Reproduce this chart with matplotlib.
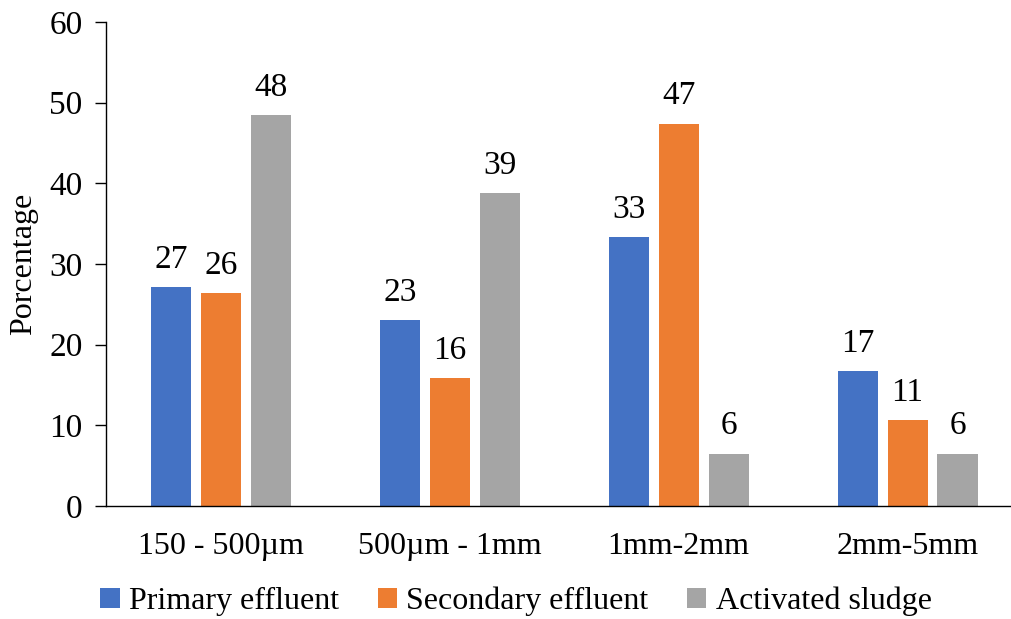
import matplotlib.pyplot as plt
import numpy as np

plt.rcParams['font.family'] = ['Liberation Serif', 'DejaVu Serif']

categories = ["150 - 500µm", "500µm - 1mm", "1mm-2mm", "2mm-5mm"]
series_names = ["Primary effluent", "Secondary effluent", "Activated sludge"]
primary = [27.1, 23.0, 33.3, 16.7]
secondary = [26.4, 15.9, 47.4, 10.7]
sludge = [48.4, 38.8, 6.5, 6.5]
colors = ['#4472C4', '#ED7D31', '#A5A5A5']

fig = plt.figure(figsize=(10.12, 6.19), dpi=100)
ax = fig.add_axes([0.105, 0.1826, 0.895, 0.782])

x = np.arange(len(categories))
width = 0.175
step = 0.218
for k, (vals, name) in enumerate(zip([primary, secondary, sludge], series_names)):
	pos = x + (k - 1) * step
	bars = ax.bar(pos, vals, width, color=colors[k], label=name)
	for p, v in zip(pos, vals):
		ax.text(p, v + 1.5, "{:.0f}".format(v), ha='center', va='bottom', fontsize=24)

ax.set_xlim(-0.5, 3.456)
ax.set_ylim(0, 60)
ax.set_yticks(range(0, 61, 10))
ax.set_xticks(x)
ax.set_xticklabels(categories)
ax.tick_params(axis='y', which='major', length=8, width=1, direction='out', labelsize=24, pad=9)
ax.tick_params(axis='x', length=0, labelsize=23, pad=19)
ax.set_ylabel("Porcentage", fontsize=23, labelpad=8)

ax.spines['top'].set_visible(False)
ax.spines['right'].set_visible(False)
ax.spines['left'].set_linewidth(1)
ax.spines['bottom'].set_linewidth(1)

fig.legend(loc='lower center', bbox_to_anchor=(0.51, -0.042), ncol=3, frameon=False,
	prop=dict(size=23), handlelength=0.6, handleheight=0.6, handletextpad=0.3, columnspacing=1.2)

plt.savefig("out.png", dpi=100)
